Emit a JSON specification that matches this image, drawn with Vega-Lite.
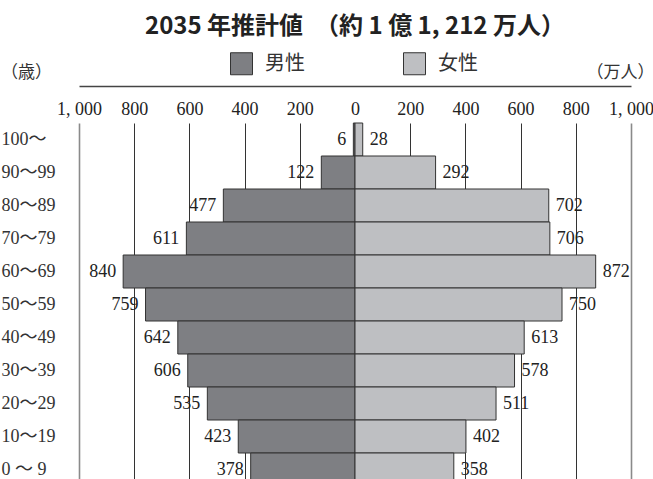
{
  "$schema": "https://vega.github.io/schema/vega-lite/v6.json",
  "autosize": {"type": "none"},
  "width": 552,
  "height": 356,
  "padding": {"left": 79, "top": 123, "right": 22, "bottom": 0},
  "background": "white",
  "title": {
    "text": "2035 年推計値　（約 1 億 1, 212 万人）",
    "anchor": "middle",
    "font": "Noto Sans CJK JP",
    "fontSize": 24,
    "fontWeight": "bold",
    "color": "#222",
    "offset": 13
  },
  "data": {
    "values": [
      {"age": "100〜", "sex": "男性", "value": 6},
      {"age": "90〜99", "sex": "男性", "value": 122},
      {"age": "80〜89", "sex": "男性", "value": 477},
      {"age": "70〜79", "sex": "男性", "value": 611},
      {"age": "60〜69", "sex": "男性", "value": 840},
      {"age": "50〜59", "sex": "男性", "value": 759},
      {"age": "40〜49", "sex": "男性", "value": 642},
      {"age": "30〜39", "sex": "男性", "value": 606},
      {"age": "20〜29", "sex": "男性", "value": 535},
      {"age": "10〜19", "sex": "男性", "value": 423},
      {"age": "0 〜 9", "sex": "男性", "value": 378},
      {"age": "100〜", "sex": "女性", "value": 28},
      {"age": "90〜99", "sex": "女性", "value": 292},
      {"age": "80〜89", "sex": "女性", "value": 702},
      {"age": "70〜79", "sex": "女性", "value": 706},
      {"age": "60〜69", "sex": "女性", "value": 872},
      {"age": "50〜59", "sex": "女性", "value": 750},
      {"age": "40〜49", "sex": "女性", "value": 613},
      {"age": "30〜39", "sex": "女性", "value": 578},
      {"age": "20〜29", "sex": "女性", "value": 511},
      {"age": "10〜19", "sex": "女性", "value": 402},
      {"age": "0 〜 9", "sex": "女性", "value": 358}
    ]
  },
  "encoding": {
    "y": {
      "field": "age",
      "type": "nominal",
      "sort": null,
      "scale": {
        "domain": ["100〜", "90〜99", "80〜89", "70〜79", "60〜69", "50〜59", "40〜49", "30〜39", "20〜29", "10〜19", "0 〜 9"],
        "range": [0, 363],
        "paddingInner": 0,
        "paddingOuter": 0
      },
      "axis": {
        "title": "（歳）",
        "titleAngle": 0,
        "titleX": -53,
        "titleY": -51,
        "titleAlign": "center",
        "titleBaseline": "middle",
        "titleFont": "Noto Sans CJK JP",
        "titleFontSize": 17,
        "titleFontWeight": "normal",
        "titleColor": "#333",
        "domain": false,
        "ticks": false,
        "tickSize": 0,
        "labelAlign": "left",
        "labelBaseline": "middle",
        "labelPadding": 78,
        "labelFont": "Liberation Serif, Noto Sans CJK JP",
        "labelFontSize": 18,
        "labelColor": "#333",
        "labelLimit": 0
      }
    }
  },
  "layer": [
    {
      "transform": [{"filter": "datum.sex == '男性'"}],
      "layer": [
        {
          "mark": {"type": "bar", "stroke": "#333", "strokeWidth": 1},
          "encoding": {
            "x": {
              "field": "value",
              "type": "quantitative",
              "scale": {"domain": [-1000, 1000], "reverse": true, "nice": false, "zero": false},
              "axis": null
            },
            "fill": {
              "field": "sex",
              "type": "nominal",
              "scale": {"domain": ["男性", "女性"], "range": ["#7e7f83", "#bebfc2"]},
              "legend": {
                "orient": "none",
                "legendX": 151,
                "legendY": -71,
                "direction": "horizontal",
                "title": null,
                "symbolType": "square",
                "symbolSize": 484,
                "symbolStrokeColor": "#333",
                "symbolStrokeWidth": 1,
                "labelFont": "Noto Sans CJK JP",
                "labelFontSize": 20,
                "labelColor": "#333",
                "labelOffset": 12,
                "columnPadding": 96,
                "padding": 0
              }
            }
          }
        },
        {
          "mark": {"type": "text", "align": "right", "baseline": "middle", "dx": -7, "font": "Liberation Serif", "fontSize": 18, "fill": "#222"},
          "encoding": {
            "x": {
              "field": "value",
              "type": "quantitative",
              "scale": {"domain": [-1000, 1000], "reverse": true, "nice": false, "zero": false},
              "axis": null
            },
            "text": {"field": "value", "type": "quantitative"}
          }
        }
      ]
    },
    {
      "transform": [{"filter": "datum.sex == '女性'"}],
      "layer": [
        {
          "mark": {"type": "bar", "stroke": "#333", "strokeWidth": 1},
          "encoding": {
            "x": {
              "field": "value",
              "type": "quantitative",
              "scale": {"domain": [-1000, 1000], "nice": false, "zero": false},
              "axis": {
                "orient": "top",
                "title": "（万人）",
                "titleX": 541,
                "titleY": -14,
                "titleAlign": "center",
                "titleBaseline": "middle",
                "titleAngle": 0,
                "titleFont": "Noto Sans CJK JP",
                "titleFontSize": 17,
                "titleFontWeight": "normal",
                "titleColor": "#333",
                "values": [-1000, -800, -600, -400, -200, 0, 200, 400, 600, 800, 1000],
                "labelExpr": "abs(datum.value) == 1000 ? '1, 000' : '' + abs(datum.value)",
                "labelFont": "Liberation Serif",
                "labelFontSize": 18,
                "labelColor": "#222",
                "labelBaseline": "middle",
                "labelPadding": -23,
                "labelFlush": false,
                "labelOverlap": false,
                "ticks": false,
                "tickSize": 0,
                "offset": 37,
                "domain": true,
                "domainColor": "#444",
                "domainWidth": 1.5,
                "grid": true,
                "gridColor": {"condition": {"test": "abs(datum.value) == 1000", "value": "#8a8a8a"}, "value": "#333"},
                "gridWidth": {"condition": {"test": "abs(datum.value) == 1000", "value": 1.6}, "value": 1},
                "gridOpacity": 1
              }
            },
            "fill": {
              "field": "sex",
              "type": "nominal",
              "scale": {"domain": ["男性", "女性"], "range": ["#7e7f83", "#bebfc2"]}
            }
          }
        },
        {
          "mark": {"type": "text", "align": "left", "baseline": "middle", "dx": 7, "font": "Liberation Serif", "fontSize": 18, "fill": "#222"},
          "encoding": {
            "x": {
              "field": "value",
              "type": "quantitative",
              "scale": {"domain": [-1000, 1000], "nice": false, "zero": false}
            },
            "text": {"field": "value", "type": "quantitative"}
          }
        }
      ]
    }
  ],
  "resolve": {"scale": {"x": "independent"}, "axis": {"x": "independent"}},
  "config": {
    "view": {"stroke": null}
  }
}
